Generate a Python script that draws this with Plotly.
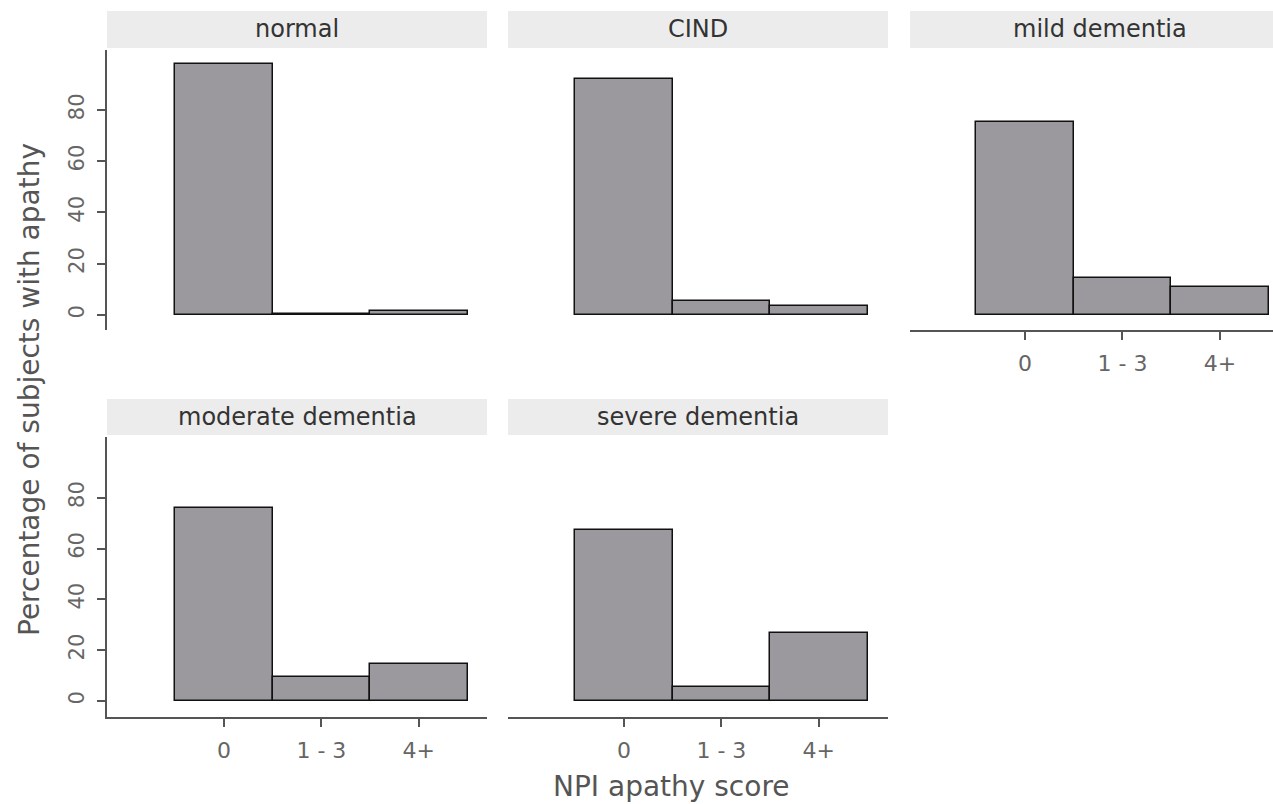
import plotly.graph_objects as go

W, H = 1273, 804

categories = ["0", "1 - 3", "4+"]
panel_titles = ["normal", "CIND", "mild dementia", "moderate dementia", "severe dementia"]
normal = [98.0, 0.3, 1.4]
cind = [92.0, 5.5, 3.5]
mild = [75.5, 14.3, 10.8]
moderate = [75.9, 9.6, 14.4]
severe = [67.4, 5.4, 26.9]
y_ticks = [0, 20, 40, 60, 80]

series = [normal, cind, mild, moderate, severe]

# layout in pixels
cols_px = [(107, 487), (508, 888), (910, 1273)]
rows_px = [(50, 330), (437, 717)]
strip_rows_px = [(11, 48), (399, 435)]
positions = [(0, 0), (0, 1), (0, 2), (1, 0), (1, 1)]
xranges = [[-1.2, 2.7], [-1.19, 2.71], [-1.18, 2.545], [-1.2, 2.7], [-1.19, 2.71]]
yranges = [[-5.85, 103.4], [-5.85, 103.4], [-5.85, 103.4], [-6.3, 103.9], [-6.3, 103.9]]
show_x = [False, False, True, True, True]
show_y = [True, False, False, True, False]

FONT = "DejaVu Sans"
BAR = "#9b999e"
AX = "#555555"

fig = go.Figure()
layout = dict(
    width=W, height=H, margin=dict(l=0, r=0, t=0, b=0),
    paper_bgcolor="white", plot_bgcolor="white", showlegend=False,
    bargap=0,
)
shapes = []
annotations = []

for i, vals in enumerate(series):
    r, c = positions[i]
    n = i + 1
    xa = "x" if n == 1 else f"x{n}"
    ya = "y" if n == 1 else f"y{n}"
    fig.add_trace(go.Bar(
        x=categories, y=vals, xaxis=xa, yaxis=ya, width=1,
        marker=dict(color=BAR, line=dict(color="#111111", width=1.5)),
        hoverinfo="x+y",
    ))
    x0, x1 = cols_px[c]
    y0, y1 = rows_px[r]
    xd = [x0 / W, min(x1 / W, 1.0)]
    yd = [1 - y1 / H, 1 - y0 / H]
    xkey = "xaxis" if n == 1 else f"xaxis{n}"
    ykey = "yaxis" if n == 1 else f"yaxis{n}"
    layout[xkey] = dict(
        domain=xd, anchor=ya, type="category", categoryarray=categories,
        categoryorder="array", range=xranges[i],
        showgrid=False, zeroline=False,
        showline=show_x[i], linecolor=AX, linewidth=1.5,
        ticks="outside" if show_x[i] else "", ticklen=8, tickwidth=1.5, tickcolor=AX,
        showticklabels=show_x[i],
        tickfont=dict(family=FONT, size=22, color="#666666"),
        ticklabelstandoff=5,
    )
    layout[ykey] = dict(
        domain=yd, anchor=xa, range=yranges[i],
        showgrid=False, zeroline=False,
        showline=show_y[i], linecolor=AX, linewidth=1.5,
        ticks="outside" if show_y[i] else "", ticklen=8, tickwidth=1.5, tickcolor=AX,
        tickmode="array", tickvals=y_ticks,
        showticklabels=show_y[i], tickangle=-90,
        tickfont=dict(family=FONT, size=21, color="#666666"),
        ticklabelstandoff=5,
    )
    # strip
    sy0, sy1 = strip_rows_px[r]
    shapes.append(dict(
        type="rect", xref="paper", yref="paper",
        x0=x0 / W, x1=min(x1 / W, 1.0), y0=1 - sy1 / H, y1=1 - sy0 / H,
        fillcolor="#ececec", line=dict(width=0), layer="below",
    ))
    annotations.append(dict(
        text=panel_titles[i], xref="paper", yref="paper",
        x=((x0 + (x1 if c < 2 else 1290)) / 2) / W, y=1 - ((sy0 + sy1) / 2) / H,
        xanchor="center", yanchor="middle", showarrow=False,
        font=dict(family=FONT, size=24, color="#333333"),
    ))

annotations.append(dict(
    text="Percentage of subjects with apathy", xref="paper", yref="paper",
    x=30 / W, y=1 - 390 / H, xanchor="center", yanchor="middle",
    textangle=-90, showarrow=False,
    font=dict(family=FONT, size=28, color="#555555"),
))
annotations.append(dict(
    text="NPI apathy score", xref="paper", yref="paper",
    x=671 / W, y=1 - 786 / H, xanchor="center", yanchor="middle",
    showarrow=False,
    font=dict(family=FONT, size=28, color="#555555"),
))

layout["shapes"] = shapes
layout["annotations"] = annotations
fig.update_layout(**layout)
fig.write_html("out.html")
